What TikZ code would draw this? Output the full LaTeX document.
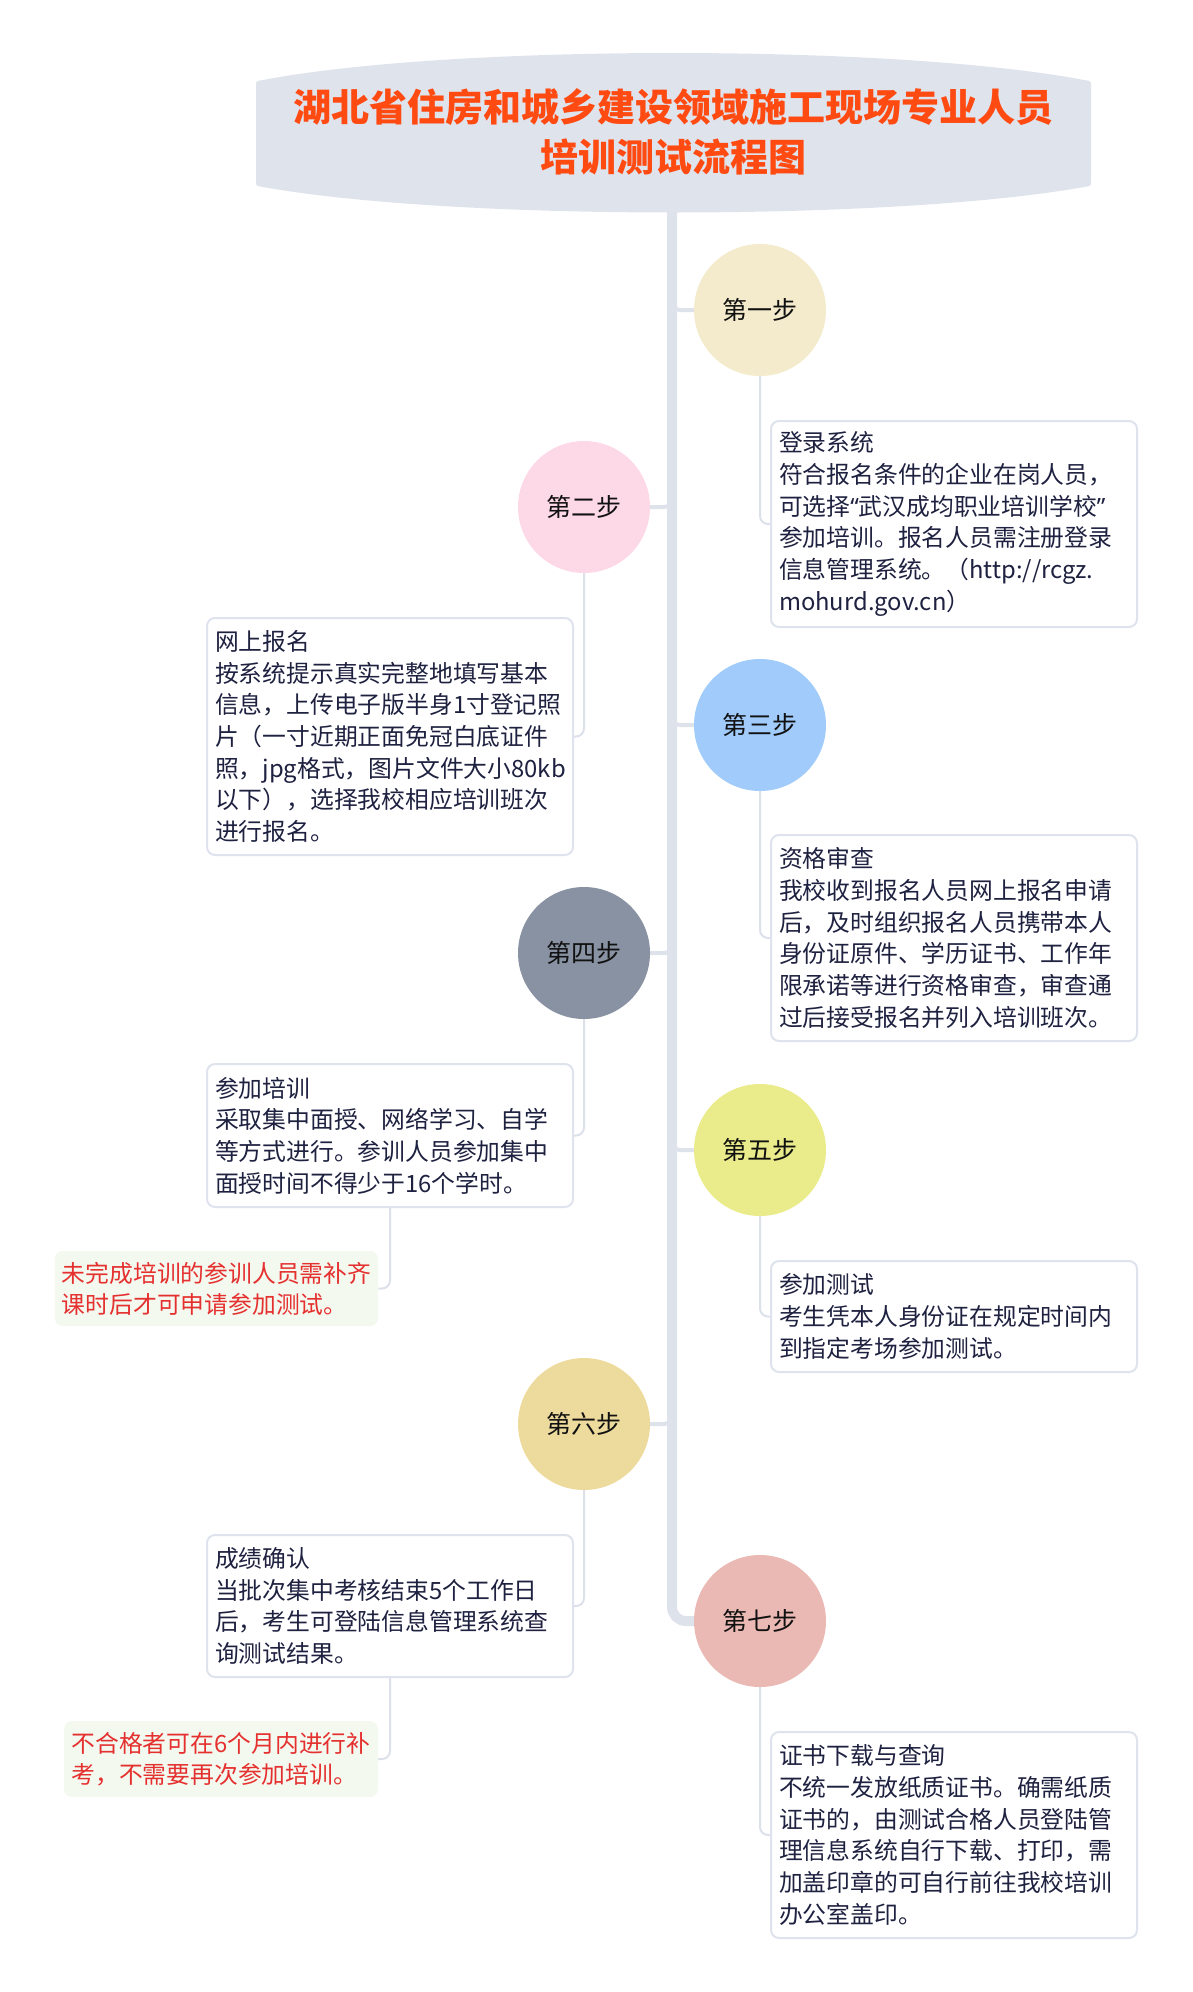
\documentclass[tikz,border=0pt]{standalone}
\usepackage{fontspec}
\newfontfamily\cjk{Noto Sans CJK SC}
\newfontfamily\latq{Noto Sans}
\usetikzlibrary{calc}
\definecolor{titlebg}{HTML}{DFE3EC}
\definecolor{titlefg}{HTML}{FF4A12}
\definecolor{spinecol}{HTML}{DEE2EB}
\definecolor{connline}{HTML}{DCE0EA}
\definecolor{boxline}{HTML}{DFE3EE}
\definecolor{boxfg}{HTML}{1E2140}
\definecolor{notebg}{HTML}{F3F9EE}
\definecolor{notefg}{HTML}{E53030}
\definecolor{stepfg}{HTML}{111111}
\definecolor{cA}{HTML}{F3EBCB}
\definecolor{cB}{HTML}{FDD9E7}
\definecolor{cC}{HTML}{A0CBFB}
\definecolor{cD}{HTML}{8892A2}
\definecolor{cE}{HTML}{EAEB8A}
\definecolor{cF}{HTML}{EDDB9E}
\definecolor{cG}{HTML}{EBB9B3}
\pgfdeclarelayer{bg}
\pgfsetlayers{bg,main}
\begin{document}
\begin{tikzpicture}[x=1pt,y=-1pt,
  stepnode/.style={circle, minimum size=132pt, inner sep=0pt, text=stepfg,
    font=\cjk\fontsize{25}{30}\selectfont},
  infobox/.style={draw=boxline, line width=2pt, fill=white, rounded corners=8pt,
    minimum width=366pt, text width=350pt, inner xsep=8pt, inner ysep=0pt,
    align=left, text=boxfg, font=\cjk\fontsize{23.8}{31.7}\selectfont},
  notebox/.style={fill=notebg, rounded corners=8pt, align=left, inner xsep=7pt,
    inner ysep=0pt, text=notefg, font=\cjk\fontsize{23.8}{31}\selectfont},
  spine/.style={draw=spinecol, line width=10pt, rounded corners=14pt},
  branch/.style={draw=spinecol, line width=4pt, rounded corners=8pt},
  conn/.style={draw=connline, line width=2pt, rounded corners=8pt}]
\useasboundingbox (0,0) rectangle (1192,1992);

% title shape
\fill[titlebg] (256,86) .. controls (256,81) .. (263,80)
  .. controls (452,44) and (895,44) .. (1084,80)
  .. controls (1091,81) .. (1091,86) -- (1091,181)
  .. controls (1091,186) .. (1084,187)
  .. controls (895,221) and (452,221) .. (263,187)
  .. controls (256,186) .. (256,181) -- cycle;
\node[align=center, text=titlefg, font=\cjk\bfseries\fontsize{38}{50}\selectfont]
  (title) at (673,132) {湖北省住房和城乡建设领域施工现场专业人员\\培训测试流程图};
\coordinate (titlebot) at (672,212);

% steps
\node[stepnode, fill=cA] (c1) at (760,310) {第一步};
\node[stepnode, fill=cB] (c2) at (584,507) {第二步};
\node[stepnode, fill=cC] (c3) at (760,725) {第三步};
\node[stepnode, fill=cD] (c4) at (584,953) {第四步};
\node[stepnode, fill=cE] (c5) at (760,1150) {第五步};
\node[stepnode, fill=cF] (c6) at (584,1424) {第六步};
\node[stepnode, fill=cG] (c7) at (760,1621) {第七步};

% boxes
\node[infobox, minimum height=206pt] (b1) at (954,524) {登录系统\\
符合报名条件的企业在岗人员，\\
可选择{\latq “}武汉成均职业培训学校{\latq ”}\\
参加培训。报名人员需注册登录\\
信息管理系统。（http://rcgz.\\
mohurd.gov.cn）};
\node[infobox, minimum height=237pt] (b2) at (390,736.5) {网上报名\\
按系统提示真实完整地填写基本\\
信息，上传电子版半身1寸登记照\\
片（一寸近期正面免冠白底证件\\
照，jpg格式，图片文件大小80kb\\
以下），选择我校相应培训班次\\
进行报名。};
\node[infobox, minimum height=206pt] (b3) at (954,938) {资格审查\\
我校收到报名人员网上报名申请\\
后，及时组织报名人员携带本人\\
身份证原件、学历证书、工作年\\
限承诺等进行资格审查，审查通\\
过后接受报名并列入培训班次。};
\node[infobox, minimum height=143pt] (b4) at (390,1135.5) {参加培训\\
采取集中面授、网络学习、自学\\
等方式进行。参训人员参加集中\\
面授时间不得少于16个学时。};
\node[infobox, minimum height=111pt] (b5) at (954,1316.5) {参加测试\\
考生凭本人身份证在规定时间内\\
到指定考场参加测试。};
\node[infobox, minimum height=142pt] (b6) at (390,1606) {成绩确认\\
当批次集中考核结束5个工作日\\
后，考生可登陆信息管理系统查\\
询测试结果。};
\node[infobox, minimum height=206pt] (b7) at (954,1835) {证书下载与查询\\
不统一发放纸质证书。确需纸质\\
证书的，由测试合格人员登陆管\\
理信息系统自行下载、打印，需\\
加盖印章的可自行前往我校培训\\
办公室盖印。};

% notes
\node[notebox, minimum width=323pt, minimum height=75pt] (n4) at (216.5,1288.5)
  {未完成培训的参训人员需补齐\\课时后才可申请参加测试。};
\node[notebox, minimum width=314pt, minimum height=76pt] (n6) at (221,1759)
  {不合格者可在6个月内进行补\\考，不需要再次参加培训。};

% spine coordinates
\coordinate (s1) at (672,290);
\coordinate (s2) at (672,487);
\coordinate (s3) at (672,705);
\coordinate (s4) at (672,933);
\coordinate (s5) at (672,1130);
\coordinate (s6) at (672,1404);

\begin{pgfonlayer}{bg}
\draw[spine] (titlebot) |- (c7.west);
\draw[branch] (s1) |- (c1.west);
\draw[branch] (s2) |- (c2.east);
\draw[branch] (s3) |- (c3.west);
\draw[branch] (s4) |- (c4.east);
\draw[branch] (s5) |- (c5.west);
\draw[branch] (s6) |- (c6.east);
\draw[conn] (c1.south) |- (b1.west);
\draw[conn] (c2.south) |- (b2.east);
\draw[conn] (c3.south) |- (b3.west);
\draw[conn] (c4.south) |- (b4.east);
\draw[conn] (c5.south) |- (b5.west);
\draw[conn] (c6.south) |- (b6.east);
\draw[conn] (c7.south) |- (b7.west);
\draw[conn] (b4.south) |- (n4.east);
\draw[conn] (b6.south) |- (n6.east);
\end{pgfonlayer}
\end{tikzpicture}
\end{document}
